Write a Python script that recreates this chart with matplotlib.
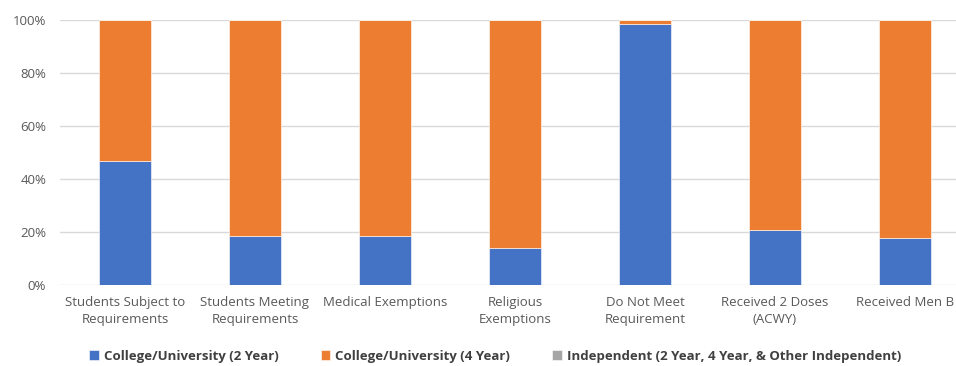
import numpy as np
from matplotlib import pyplot as plt
from matplotlib.ticker import PercentFormatter

# share of students by institution type (percent)
categories = ["Students Subject to\nRequirements", "Students Meeting\nRequirements",
              "Medical Exemptions", "Religious\nExemptions", "Do Not Meet\nRequirement",
              "Received 2 Doses\n(ACWY)", "Received Men B"]
two_year = np.array([46.8, 18.6, 18.6, 14.0, 98.6, 20.8, 17.8])
four_year = np.array([53.2, 81.4, 81.4, 86.0, 1.4, 79.2, 82.2])
independent = np.array([0, 0, 0, 0, 0, 0, 0])

series = ["College/University (2 Year)", "College/University (4 Year)",
          "Independent (2 Year, 4 Year, & Other Independent)"]
colors = ["#4472C4", "#ED7D31", "#A5A5A5"]

plt.rcParams['font.family'] = ['Open Sans', 'DejaVu Sans']

fig = plt.figure(figsize=(9.56, 3.66), dpi=100)
ax = fig.add_axes([60/956, 1 - 285/366, 910/956, 265/366])

x = np.arange(len(categories))
bottom = np.zeros(len(categories))
bars = []
for vals, name, c in zip([two_year, four_year, independent], series, colors):
    b = ax.bar(x, vals, 0.4, bottom=bottom, color=c, label=name,
               edgecolor="white", linewidth=0.4)
    bars.append(b)
    bottom = bottom + vals

ax.set_xlim(-0.5, len(categories) - 0.5)
ax.set_ylim(0, 100)
ax.set_yticks(np.arange(0, 101, 20))
ax.yaxis.set_major_formatter(PercentFormatter(decimals=0))
ax.set_xticks(x)
ax.set_xticklabels(categories, fontsize=9.5, color="#595959", linespacing=1.35)
ax.tick_params(axis="y", labelsize=9.5, labelcolor="#595959", length=0, pad=10)
ax.tick_params(axis="x", length=0, pad=8)
ax.grid(axis="y", color="#D9D9D9", linewidth=1)
ax.set_axisbelow(True)
for s in ax.spines.values():
    s.set_visible(False)

fig.legend(handles=bars, labels=series, loc="center", bbox_to_anchor=(0.518, 0.027),
           ncol=3, frameon=False, handlelength=0.7, handleheight=0.7,
           handletextpad=0.4, columnspacing=3.2,
           prop={"weight": "bold", "size": 9.5}, labelcolor="#404040")

fig.savefig("out.png", dpi=100)
